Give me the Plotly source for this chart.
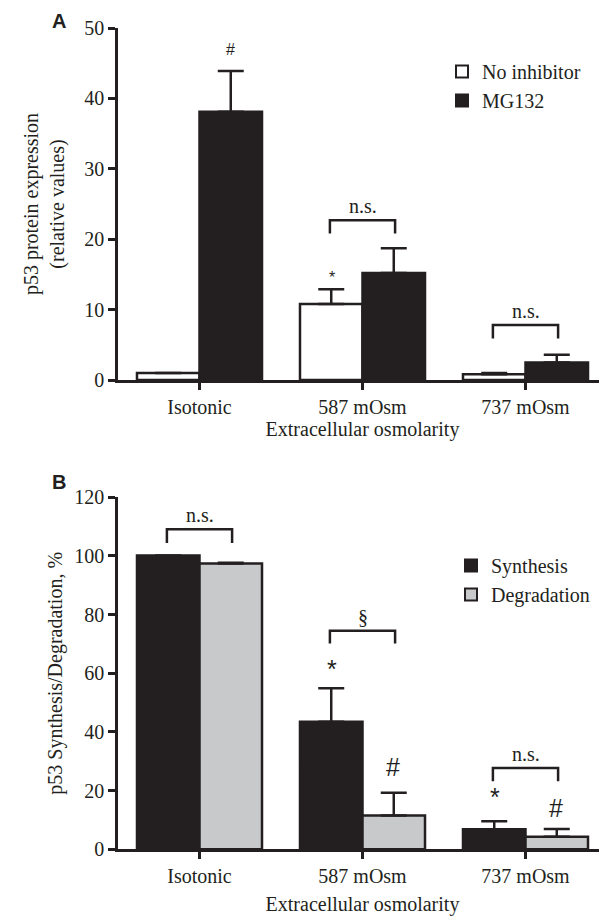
import plotly.graph_objects as go

# ---------------- data ----------------
categories = ["Isotonic", "587 mOsm", "737 mOsm"]
cat_pos = [0, 1, 2]

a_no_inhibitor = [1.0, 10.8, 0.8]
a_no_inhibitor_err = [0.0, 2.1, 0.2]
a_mg132 = [38.1, 15.2, 2.5]
a_mg132_err = [5.8, 3.5, 1.1]

b_synthesis = [100.2, 43.5, 6.8]
b_synthesis_err = [0.0, 11.4, 2.8]
b_degradation = [97.4, 11.5, 4.3]
b_degradation_err = [0.3, 7.8, 2.6]

a_yticks = [0, 10, 20, 30, 40, 50]
b_yticks = [0, 20, 40, 60, 80, 100, 120]

# significance brackets: (category index, bracket top value, leg bottom value, label)
a_brackets = [(1, 22.7, 20.8, "n.s."), (2, 7.8, 5.9, "n.s.")]
b_brackets = [(0, 109.1, 104.4, "n.s."), (1, 74.5, 70.2, "§"), (2, 27.7, 23.2, "n.s.")]
# marks above individual bars: (category index, series side -1/+1, value, label)
a_marks = [(0, 1, 46.9, "#"), (1, -1, 14.6, "*")]
b_marks = [(1, -1, 61.5, "*"), (1, 1, 28.1, "#"), (2, -1, 17.8, "*"), (2, 1, 14.1, "#")]

# ---------------- style ----------------
INK = "#231f20"
GRAY = "#c8c9cb"
SERIF = "Liberation Serif, Times New Roman, serif"
SANS = "Liberation Sans, Arial, sans-serif"
FS = 20
OFF = 8                 # page body margin
W, H = 607 - OFF, 916 - OFF


def px(xp):             # page x pixel -> paper fraction
    return (xp - OFF) / W


def py(yp):             # page y pixel -> paper fraction
    return 1 - (yp - OFF) / H


X_DOM = [px(118), 1]
A_DOM = [py(380), py(28)]
B_DOM = [py(849.3), py(497.3)]
HALF = 0.19   # bar center offset from category center
BR = 0.2      # bracket half width


def err(e):
    return dict(type="data", symmetric=False, array=e, arrayminus=[0] * len(e),
                thickness=2.5, width=13, color=INK)


fig = go.Figure()
fig.add_trace(go.Bar(x=cat_pos, y=a_no_inhibitor, name="No inhibitor", xaxis="x", yaxis="y",
                     marker=dict(color="white", line=dict(color=INK, width=2.5)),
                     error_y=err(a_no_inhibitor_err), legend="legend"))
fig.add_trace(go.Bar(x=cat_pos, y=a_mg132, name="MG132", xaxis="x", yaxis="y",
                     marker=dict(color=INK, line=dict(color=INK, width=2.5)),
                     error_y=err(a_mg132_err), legend="legend"))
fig.add_trace(go.Bar(x=cat_pos, y=b_synthesis, name="Synthesis", xaxis="x2", yaxis="y2",
                     marker=dict(color=INK, line=dict(color=INK, width=2.5)),
                     error_y=err(b_synthesis_err), legend="legend2"))
fig.add_trace(go.Bar(x=cat_pos, y=b_degradation, name="Degradation", xaxis="x2", yaxis="y2",
                     marker=dict(color=GRAY, line=dict(color=INK, width=2.5)),
                     error_y=err(b_degradation_err), legend="legend2"))

shapes = []
annotations = []


def add_brackets(brs, xref, yref, fsize):
    for c, top, leg, lab in brs:
        shapes.append(dict(type="path", xref=xref, yref=yref,
                           path=f"M {c - BR},{leg} L {c - BR},{top} L {c + BR},{top} L {c + BR},{leg}",
                           line=dict(color=INK, width=2.5)))
        annotations.append(dict(x=c, y=top, xref=xref, yref=yref, text=lab, showarrow=False,
                                xanchor="center", yanchor="bottom", yshift=1,
                                font=dict(family=SERIF, size=fsize, color=INK)))


def add_marks(marks, xref, yref, fsize):
    for c, side, v, lab in marks:
        annotations.append(dict(x=c + side * HALF, y=v, xref=xref, yref=yref, text=lab,
                                showarrow=False, xanchor="center", yanchor="middle",
                                font=dict(family=SANS, size=fsize, color=INK)))


add_brackets(a_brackets, "x", "y", FS)
add_brackets(b_brackets, "x2", "y2", FS)
add_marks(a_marks, "x", "y", 16)
add_marks(b_marks, "x2", "y2", 25)

for lab, yp in (("A", 21), ("B", 482)):
    annotations.append(dict(x=px(59), y=py(yp), xref="paper", yref="paper",
                            text=f"<b>{lab}</b>", showarrow=False, borderpad=0,
                            xanchor="center", yanchor="middle",
                            font=dict(family=SANS, size=20, color=INK)))

axis_common = dict(showline=True, linecolor=INK, linewidth=2.5, ticks="outside",
                   ticklen=7, tickwidth=2.5, tickcolor=INK, showgrid=False, zeroline=False,
                   automargin=False, tickfont=dict(family=SERIF, size=FS, color=INK))
title_font = dict(family=SERIF, size=FS, color=INK)
legend_font = dict(family=SERIF, size=FS, color=INK)

fig.update_layout(
    template="none",
    width=W, height=H, margin=dict(l=0, r=0, t=0, b=0, pad=0, autoexpand=False),
    paper_bgcolor="white", plot_bgcolor="white",
    font=dict(family=SERIF, size=FS, color=INK),
    barmode="group", bargap=0.233, bargroupgap=0,
    xaxis=dict(axis_common, domain=X_DOM, anchor="y", range=[-0.5, 2.5],
               tickvals=cat_pos, ticktext=categories,
               title=dict(text="Extracellular osmolarity", standoff=1, font=title_font)),
    yaxis=dict(axis_common, domain=A_DOM, anchor="x", range=[0, 50], tickvals=a_yticks,
               title=dict(text="p53 protein expression<br>(relative values)", standoff=15,
                          font=title_font)),
    xaxis2=dict(axis_common, domain=X_DOM, anchor="y2", range=[-0.5, 2.5],
                tickvals=cat_pos, ticktext=categories,
                title=dict(text="Extracellular osmolarity", standoff=14, font=title_font)),
    yaxis2=dict(axis_common, domain=B_DOM, anchor="x2", range=[0, 120], tickvals=b_yticks,
                title=dict(text="p53 Synthesis/Degradation, %", standoff=7, font=title_font)),
    legend=dict(x=px(442), y=py(52), xanchor="left", yanchor="top",
                bgcolor="rgba(0,0,0,0)", font=legend_font,
                tracegroupgap=0, itemsizing="constant"),
    legend2=dict(x=px(451), y=py(546), xanchor="left", yanchor="top",
                 bgcolor="rgba(0,0,0,0)", font=legend_font,
                 tracegroupgap=0, itemsizing="constant"),
    shapes=shapes, annotations=annotations, showlegend=True,
)

fig.write_html("out.html")
